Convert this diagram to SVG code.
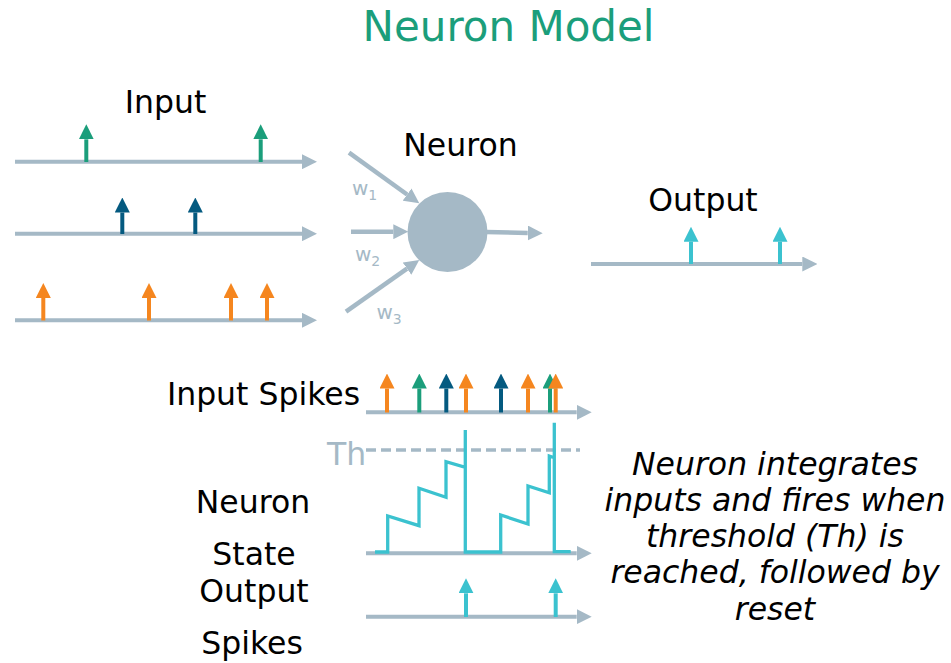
<svg xmlns="http://www.w3.org/2000/svg" width="951" height="663" viewBox="0 0 951 663">
<defs>
<marker id="mg" viewBox="0 0 15 15" refX="0" refY="7.5" markerWidth="15" markerHeight="15" markerUnits="userSpaceOnUse" orient="auto"><path d="M0,0 L15,7.5 L0,15 z" fill="#a5b9c6"/></marker>
<marker id="mt" viewBox="0 0 15 15" refX="0" refY="7.5" markerWidth="15" markerHeight="15" markerUnits="userSpaceOnUse" orient="auto"><path d="M0,0 L15,7.5 L0,15 z" fill="#1b9e7b"/></marker>
<marker id="mb" viewBox="0 0 15 15" refX="0" refY="7.5" markerWidth="15" markerHeight="15" markerUnits="userSpaceOnUse" orient="auto"><path d="M0,0 L15,7.5 L0,15 z" fill="#045a80"/></marker>
<marker id="mo" viewBox="0 0 15 15" refX="0" refY="7.5" markerWidth="15" markerHeight="15" markerUnits="userSpaceOnUse" orient="auto"><path d="M0,0 L15,7.5 L0,15 z" fill="#f5861f"/></marker>
<marker id="mc" viewBox="0 0 15 15" refX="0" refY="7.5" markerWidth="15" markerHeight="15" markerUnits="userSpaceOnUse" orient="auto"><path d="M0,0 L15,7.5 L0,15 z" fill="#3bc2cf"/></marker>
</defs>
<style>
text { font-family: "DejaVu Sans", "Liberation Sans", sans-serif; }
.lbl { font-size: 31.5px; fill: #000; text-anchor: middle; }
.ital { font-size: 31.5px; font-style: italic; fill: #000; text-anchor: middle; }
.w { font-size: 20px; fill: #a5b9c6; }
.sub { font-size: 14px; }
.ax { stroke: #a5b9c6; stroke-width: 4; fill: none; marker-end: url(#mg); }
.sg { stroke: #1b9e7b; stroke-width: 4; marker-end: url(#mt); }
.sb { stroke: #045a80; stroke-width: 4; marker-end: url(#mb); }
.so { stroke: #f5861f; stroke-width: 4; marker-end: url(#mo); }
.sc { stroke: #3bc2cf; stroke-width: 4; marker-end: url(#mc); }
</style>
<rect width="951" height="663" fill="#fff"/>

<text id="title" x="508.5" y="41" style="font-size:42px;fill:#1b9e7b;text-anchor:middle">Neuron Model</text>

<g id="input">
<text class="lbl" x="165.5" y="112.5">Input</text>
</g>
<g id="neuron">
<circle cx="447.5" cy="232" r="40" fill="#a5b9c6"/>
<text class="lbl" x="460.5" y="156">Neuron</text>
</g>
<g id="output">
<text class="lbl" x="703" y="210.5">Output</text>
</g>
<g id="weights">
<text class="w" x="352" y="195">w<tspan class="sub" dy="5">1</tspan></text>
<text class="w" x="355" y="261">w<tspan class="sub" dy="4.7">2</tspan></text>
<text class="w" x="376.5" y="319">w<tspan class="sub" dy="4.5">3</tspan></text>
</g>

<g id="connectors">
<line class="ax" x1="15" y1="161.7" x2="302" y2="161.7"/>
<line class="ax" x1="15" y1="233.7" x2="302" y2="233.7"/>
<line class="ax" x1="15" y1="320.3" x2="302" y2="320.3"/>
<line class="sg" x1="86.3" y1="162" x2="86.3" y2="139.3"/>
<line class="sg" x1="260.7" y1="162" x2="260.7" y2="139.3"/>
<line class="sb" x1="122.3" y1="234" x2="122.3" y2="212.5"/>
<line class="sb" x1="195.3" y1="234" x2="195.3" y2="212.5"/>
<line class="so" x1="43.3" y1="320.5" x2="43.3" y2="298"/>
<line class="so" x1="149" y1="320.5" x2="149" y2="298"/>
<line class="so" x1="231" y1="320.5" x2="231" y2="298"/>
<line class="so" x1="267" y1="320.5" x2="267" y2="298"/>
<line class="ax" style="stroke-width:4.5" x1="349" y1="152.7" x2="407.1" y2="194.5"/>
<line class="ax" style="stroke-width:4.5" x1="351" y1="231.7" x2="393.3" y2="231.7"/>
<line class="ax" style="stroke-width:4.5" x1="346" y1="311.7" x2="407" y2="268.6"/>
<line class="ax" style="stroke-width:4.5" x1="486" y1="232" x2="527.7" y2="233"/>
<line class="ax" x1="591" y1="264" x2="802.3" y2="264"/>
<line class="sc" x1="691" y1="264" x2="691" y2="241.7"/>
<line class="sc" x1="780" y1="264" x2="780" y2="241.7"/>
<line class="ax" x1="366" y1="412.3" x2="576.7" y2="412.3"/>
<line class="so" x1="387" y1="412.5" x2="387" y2="388.5"/>
<line class="sg" x1="419.3" y1="412.5" x2="419.3" y2="388.5"/>
<line class="sb" x1="446.3" y1="412.5" x2="446.3" y2="388.5"/>
<line class="so" x1="466" y1="412.5" x2="466" y2="388.5"/>
<line class="sb" x1="501" y1="412.5" x2="501" y2="388.5"/>
<line class="so" x1="528" y1="412.5" x2="528" y2="388.5"/>
<line class="sg" x1="550" y1="412.5" x2="550" y2="388.5"/>
<line class="so" x1="555.7" y1="412.5" x2="555.7" y2="388.5"/>
<line x1="366" y1="450" x2="580" y2="450" stroke="#a5b9c6" stroke-width="3.5" stroke-dasharray="10 5"/>
<line class="ax" x1="366" y1="553.3" x2="576.7" y2="553.3"/>
<path d="M375,552 L387.7,552 L387.7,516 L419,525.7 L419,488.3 L446,497.3 L446,461.7 L465.3,467.3 L465.3,430 L465.3,552 L500.7,552 L500.7,515 L528,524 L528,486 L549.3,492.7 L549.3,456 L554.3,457.7 L554.3,422.7 L554.3,551.7 L570.7,551.7" fill="none" stroke="#3bc2cf" stroke-width="3.3" stroke-linejoin="miter"/>
<line class="ax" x1="366" y1="616.7" x2="576.7" y2="616.7"/>
<line class="sc" x1="466" y1="617" x2="466" y2="593.3"/>
<line class="sc" x1="555.7" y1="617" x2="555.7" y2="593.3"/>
</g>

<g id="labels">
<text class="lbl" x="263.5" y="405">Input Spikes</text>
<text x="327" y="464.5" style="font-size:31.5px;fill:#a5b9c6">Th</text>
<text class="lbl" x="253" y="513.3">Neuron</text>
<text class="lbl" x="254" y="565">State</text>
<text class="lbl" x="254" y="601.7">Output</text>
<text class="lbl" x="252" y="654">Spikes</text>
</g>

<g id="note">
<text class="ital" x="775" y="475">Neuron integrates</text>
<text class="ital" x="775" y="510.7">inputs and fires when</text>
<text class="ital" x="775" y="546.7">threshold (Th) is</text>
<text class="ital" x="775" y="582.7">reached, followed by</text>
<text class="ital" x="775" y="620">reset</text>
</g>
</svg>
